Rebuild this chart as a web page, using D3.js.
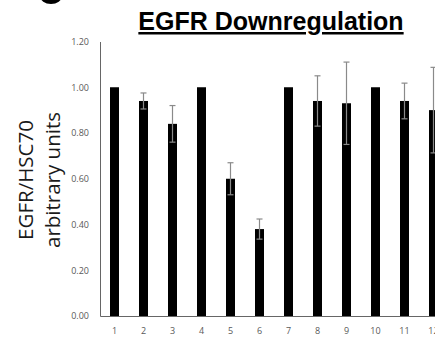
<!DOCTYPE html>
<html>
<head>
<meta charset="utf-8">
<script src="https://cdn.jsdelivr.net/npm/d3@7"></script>
<style>
  html, body { margin: 0; padding: 0; background: #fff; }
  svg { display: block; }
</style>
</head>
<body>
<svg id="chart" width="435" height="342"></svg>
<script>
const categories = ['1', '2', '3', '4', '5', '6', '7', '8', '9', '10', '11', '12'];
const values = [1.00, 0.94, 0.84, 1.00, 0.60, 0.38, 1.00, 0.94, 0.93, 1.00, 0.94, 0.90];
const errors = [0, 0.035, 0.08, 0, 0.07, 0.044, 0, 0.11, 0.18, 0, 0.078, 0.187];
const yTicks = [0, 0.2, 0.4, 0.6, 0.8, 1.0, 1.2];

const svg = d3.select('#chart');

const plotLeft = 100, plotBottom = 316, plotTop = 41.5;
const step = 29;

const x = d3.scaleBand()
  .domain(categories)
  .range([plotLeft, plotLeft + categories.length * step])
  .paddingInner(0.69)
  .paddingOuter(0.345);

const y = d3.scaleLinear()
  .domain([0, 1.2])
  .range([plotBottom, plotTop]);

// bottom of the panel letter, cut off by the crop
svg.append('ellipse')
  .attr('cx', 51)
  .attr('cy', -4)
  .attr('rx', 11)
  .attr('ry', 8)
  .attr('fill', '#000');

// Title
svg.append('text')
  .attr('x', 271)
  .attr('y', 30)
  .attr('text-anchor', 'middle')
  .attr('font-family', 'Liberation Sans, Arial, sans-serif')
  .attr('font-weight', 'bold')
  .attr('font-size', 25)
  .attr('text-decoration', 'underline')
  .attr('fill', '#000')
  .text('EGFR Downregulation');

// Y axis label
const yl = svg.append('text')
  .attr('transform', 'translate(0,180) rotate(-90)')
  .attr('text-anchor', 'middle')
  .attr('font-family', 'Open Sans, sans-serif')
  .attr('font-size', 20.5)
  .attr('fill', '#1a1a1a');
yl.append('tspan').attr('x', 0).attr('y', 33).text('EGFR/HSC70');
yl.append('tspan').attr('x', 0).attr('y', 60).text('arbitrary units');

// Y axis
svg.append('g')
  .attr('transform', `translate(${plotLeft},0)`)
  .call(d3.axisLeft(y).tickValues(yTicks).tickSize(0).tickPadding(11).tickFormat(d3.format('.2f')))
  .call(g => g.select('.domain').attr('stroke', '#666'))
  .selectAll('text')
  .attr('fill', '#595959')
  .attr('font-family', 'Open Sans, sans-serif')
  .attr('font-size', 9);

// Bars
svg.selectAll('.bar')
  .data(values)
  .join('rect')
  .attr('class', 'bar')
  .attr('x', (d, i) => x(categories[i]))
  .attr('y', d => y(d))
  .attr('width', x.bandwidth())
  .attr('height', d => y(0) - y(d))
  .attr('fill', '#000');

// Error bars
const errG = svg.append('g')
  .attr('stroke', '#8a8a8a')
  .attr('stroke-width', 1.2)
  .attr('fill', 'none');

values.forEach((v, i) => {
  if (!errors[i]) return;
  const cx = x(categories[i]) + x.bandwidth() / 2;
  const y1 = y(v + errors[i]);
  const y2 = y(v - errors[i]);
  errG.append('line').attr('x1', cx).attr('x2', cx).attr('y1', y1).attr('y2', y2);
  errG.append('line').attr('x1', cx - 3).attr('x2', cx + 3).attr('y1', y1).attr('y2', y1);
  errG.append('line').attr('x1', cx - 3).attr('x2', cx + 3).attr('y1', y2).attr('y2', y2);
});

// X axis
svg.append('g')
  .attr('transform', `translate(0,${plotBottom})`)
  .call(d3.axisBottom(x).tickSize(0).tickPadding(12))
  .call(g => g.select('.domain').attr('stroke', '#666'))
  .selectAll('text')
  .attr('fill', '#595959')
  .attr('font-family', 'Open Sans, sans-serif')
  .attr('font-size', 9);
</script>
</body>
</html>
